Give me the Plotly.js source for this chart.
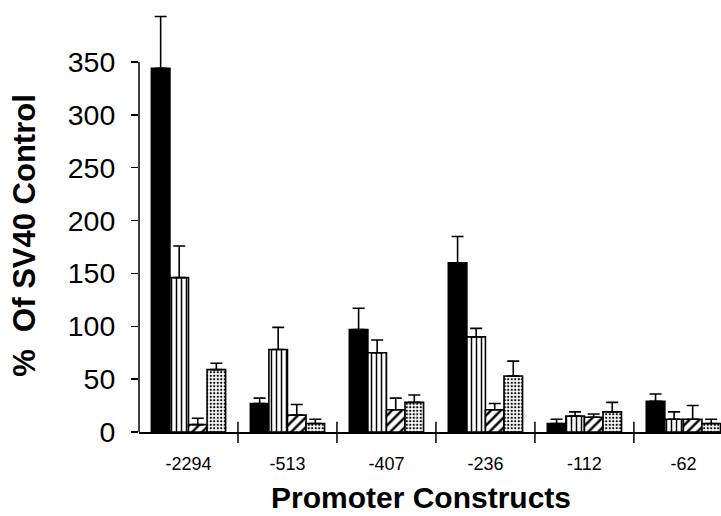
<!DOCTYPE html>
<html>
<head>
<meta charset="utf-8">
<script src="https://cdn.plot.ly/plotly-3.0.1.min.js"></script>
<style>
  html, body { margin: 0; padding: 0; background: #fff; }
  #chart { width: 721px; height: 516px; }
</style>
</head>
<body>
<div id="chart"></div>
<script>
// ---- data ----
const categories = ["-2294", "-513", "-407", "-236", "-112", "-62"];

const solidValues   = [344, 27, 97, 160, 8, 29];
const solidErrors   = [49, 5, 20, 25, 4, 7];

const verticalValues = [146, 78, 75, 90, 15, 12];
const verticalErrors = [30, 21, 12, 8, 4, 7];

const diagonalValues = [7, 16, 21, 21, 14, 12];
const diagonalErrors = [6, 10, 11, 6, 3, 13];

const dottedValues  = [59, 8, 28, 53, 19, 8];
const dottedErrors  = [6, 4, 7, 14, 9, 4];

const yTickVals = [0, 50, 100, 150, 200, 250, 300, 350];

const yTitle = "%\u00A0 Of SV40 Control";
const xTitle = "Promoter Constructs";

// ---- build ----
const FONT = "Liberation Sans, Arial, Helvetica, sans-serif";

function makeTrace(name, values, errors, pattern, color) {
  return {
    type: "bar",
    name: name,
    x: categories,
    y: values,
    marker: {
      color: color,
      line: { color: "#000", width: 1.6 },
      pattern: pattern
    },
    error_y: {
      type: "data",
      symmetric: false,
      array: errors,
      arrayminus: errors.map(() => 0),
      color: "#000",
      thickness: 1.6,
      width: 6
    },
    showlegend: false,
    hoverinfo: "x+y"
  };
}

const traces = [
  makeTrace("solid", solidValues, solidErrors, { shape: "" }, "#000"),
  makeTrace("vertical", verticalValues, verticalErrors,
    { shape: "|", fgcolor: "#000", bgcolor: "#fff", size: 5, solidity: 0.3 }, "#fff"),
  makeTrace("diagonal", diagonalValues, diagonalErrors,
    { shape: "/", fgcolor: "#000", bgcolor: "#fff", size: 7, solidity: 0.35 }, "#fff"),
  makeTrace("dotted", dottedValues, dottedErrors,
    { shape: ".", fgcolor: "#000", bgcolor: "#fff", size: 3.5, solidity: 0.35 }, "#fff")
];

// boundary tick marks crossing the x axis, between categories
const shapes = [];
for (let i = 1; i < categories.length; i++) {
  shapes.push({
    type: "line", xref: "x", yref: "paper",
    x0: i - 0.5, x1: i - 0.5, y0: -0.026, y1: 0.024,
    line: { color: "#000", width: 1.5 }
  });
}
// y axis line spanning only the labelled range
shapes.push({
  type: "line", xref: "paper", yref: "y",
  x0: 0, x1: 0, y0: yTickVals[0], y1: yTickVals[yTickVals.length - 1],
  line: { color: "#000", width: 1.5 }
});

const layout = {
  width: 721,
  height: 516,
  margin: { l: 139, r: 0, t: 10, b: 84 },
  paper_bgcolor: "#fff",
  plot_bgcolor: "#fff",
  barmode: "group",
  bargap: 0.25,
  bargroupgap: 0,
  font: { family: FONT, color: "#000" },
  xaxis: {
    type: "category",
    range: [-0.5, 5.38],
    showgrid: false,
    zeroline: false,
    showline: true,
    linecolor: "#000",
    linewidth: 1.5,
    ticks: "",
    tickfont: { family: FONT, size: 18, color: "#000" },
    ticklabelstandoff: 15,
    fixedrange: true
  },
  yaxis: {
    range: [0, 399.2],
    tickvals: yTickVals,
    showgrid: false,
    zeroline: false,
    showline: false,
    ticks: "outside",
    ticklen: 7,
    tickwidth: 1.5,
    tickcolor: "#000",
    tickfont: { family: FONT, size: 28.5, color: "#000" },
    ticklabelstandoff: 10,
    fixedrange: true
  },
  shapes: shapes,
  annotations: [
    {
      text: "<b>" + yTitle + "</b>",
      xref: "paper", yref: "paper",
      x: -0.197, y: 0.466,
      xanchor: "center", yanchor: "middle",
      textangle: -90,
      showarrow: false,
      font: { family: FONT, size: 31, color: "#000" }
    },
    {
      text: "<b>" + xTitle + "</b>",
      xref: "paper", yref: "paper",
      x: 0.485, y: -0.198,
      xanchor: "center", yanchor: "bottom",
      showarrow: false,
      font: { family: FONT, size: 30, color: "#000" }
    }
  ]
};

Plotly.newPlot("chart", traces, layout, { staticPlot: true, displayModeBar: false });
</script>
</body>
</html>
